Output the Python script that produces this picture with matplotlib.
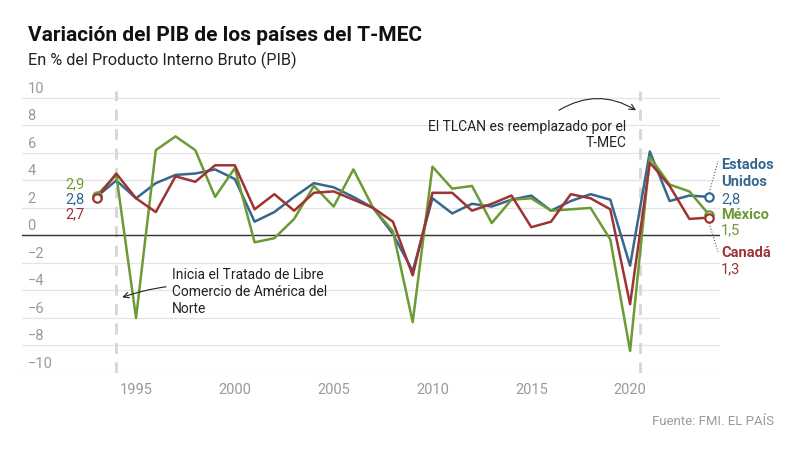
import numpy as np
import matplotlib.pyplot as plt
from matplotlib import transforms

plt.rcParams['font.family'] = ['Roboto', 'DejaVu Sans']

years = list(range(1993, 2025))

# crecimiento real del PIB, %
eeuu = [2.8, 4.0, 2.7, 3.8, 4.4, 4.5, 4.8, 4.1, 1.0, 1.7, 2.8, 3.8, 3.5, 2.8, 2.0, 0.1,
        -2.6, 2.7, 1.6, 2.3, 2.1, 2.6, 2.9, 1.8, 2.5, 3.0, 2.6, -2.2, 6.1, 2.5, 2.9, 2.8]
mexico = [2.9, 4.4, -6.0, 6.2, 7.2, 6.2, 2.8, 4.9, -0.5, -0.2, 1.2, 3.6, 2.1, 4.8, 2.0, 0.3,
          -6.3, 5.0, 3.4, 3.6, 0.9, 2.6, 2.7, 1.8, 1.9, 2.0, -0.3, -8.4, 5.7, 3.7, 3.2, 1.5]
canada = [2.7, 4.5, 2.7, 1.7, 4.3, 3.9, 5.1, 5.1, 1.9, 3.0, 1.8, 3.1, 3.2, 2.6, 2.0, 1.0,
          -2.9, 3.1, 3.1, 1.8, 2.3, 2.9, 0.6, 1.0, 3.0, 2.7, 1.9, -5.0, 5.3, 3.6, 1.2, 1.3]

series = [('eeuu', eeuu, '#36678f'), ('mexico', mexico, '#6c9a35'), ('canada', canada, '#9e3333')]

yticks = [-10, -8, -6, -4, -2, 0, 2, 4, 6, 8, 10]
xticks = [1995, 2000, 2005, 2010, 2015, 2020]

fig = plt.figure(figsize=(8, 4.49), dpi=100)
ax = fig.add_axes([0.0275, 0.1693, 0.8725, 0.628])
ax.set_xlim(1989.23, 2024.55)
ax.set_ylim(-10, 10.5)

for s in ax.spines.values():
    s.set_visible(False)
ax.set_yticks([])
ax.set_xticks(xticks)
ax.set_xticklabels([str(x) for x in xticks], color='#9a9a9a', fontsize=10.5)
ax.tick_params(axis='x', length=0, pad=7)

for v in yticks:
    ax.axhline(v, color='#e4e4e4', lw=0.9, zorder=0)
    lab = str(v).replace('-', '\u2212')
    ax.text(0.008, v + 0.15, lab, transform=transforms.blended_transform_factory(ax.transAxes, ax.transData),
            ha='left', va='bottom', fontsize=10.5, color='#9a9a9a')
ax.axhline(0, color='#333333', lw=1.0, zorder=1)

# lineas de los tratados
ax.axvline(1994.0, color='#d6d6d6', lw=2, ls=(0, (4, 3)), zorder=0.5)
ax.axvline(2020.5, color='#d6d6d6', lw=2, ls=(0, (4, 3)), zorder=0.5)

for name, vals, col in series:
    ax.plot(years, vals, color=col, lw=1.8, zorder=3)
for name, vals, col in series:
    ax.plot([years[0], years[-1]], [vals[0], vals[-1]], 'o', ms=6, mfc='white', mec=col, mew=1.6, zorder=4)

# etiquetas iniciales
ax.text(1992.4, 3.75, '2,9', color='#6c9a35', fontsize=10.5, ha='right', va='center')
ax.text(1992.4, 2.65, '2,8', color='#36678f', fontsize=10.5, ha='right', va='center')
ax.text(1992.4, 1.55, '2,7', color='#9e3333', fontsize=10.5, ha='right', va='center')

# etiquetas finales
kw = dict(transform=ax.transData, clip_on=False, fontsize=10.5, ha='left', va='center')
ax.text(2024.6, 5.15, 'Estados', color='#36678f', fontweight='bold', **kw)
ax.text(2024.6, 3.85, 'Unidos', color='#36678f', fontweight='bold', **kw)
ax.text(2024.6, 2.65, '2,8', color='#36678f', **kw)
ax.text(2024.6, 1.45, 'México', color='#6c9a35', fontweight='bold', **kw)
ax.text(2024.6, 0.4, '1,5', color='#6c9a35', **kw)
ax.text(2024.6, -1.25, 'Canadá', color='#9e3333', fontweight='bold', **kw)
ax.text(2024.6, -2.45, '1,3', color='#9e3333', **kw)
ax.plot([2024.0, 2024.45], [3.1, 5.4], ls=':', color='#555555', lw=0.8, clip_on=False)
ax.plot([2024.0, 2024.45], [0.9, -1.2], ls=':', color='#555555', lw=0.8, clip_on=False)

# anotaciones
ax.annotate('Inicia el Tratado de Libre\nComercio de América del\nNorte', xy=(1994.3, -4.5), xytext=(1996.8, -4.1),
            fontsize=10, color='#222222', ha='left', va='center', linespacing=1.25,
            arrowprops=dict(arrowstyle='->', color='#222222', lw=0.8, connectionstyle='arc3,rad=0.15',
                            shrinkA=2, shrinkB=0))
ax.annotate('El TLCAN es reemplazado por el\nT-MEC', xy=(2020.3, 9.1), xytext=(2019.8, 7.3),
            fontsize=10, color='#222222', ha='right', va='center', linespacing=1.25)
ax.annotate('', xy=(2020.3, 9.1), xytext=(2016.4, 9.1),
            arrowprops=dict(arrowstyle='->', color='#222222', lw=0.8, connectionstyle='arc3,rad=-0.3',
                            shrinkA=0, shrinkB=0))

fig.text(0.035, 0.92, 'Variación del PIB de los países del T-MEC', fontsize=15, fontweight='bold',
         color='#111111', ha='left', va='center')
fig.text(0.035, 0.866, 'En % del Producto Interno Bruto (PIB)', fontsize=11.7, color='#222222',
         ha='left', va='center')
fig.text(0.968, 0.062, 'Fuente: FMI. EL PAÍS', fontsize=9.5, color='#9a9a9a', ha='right', va='center')

fig.savefig('out.png', dpi=100)
